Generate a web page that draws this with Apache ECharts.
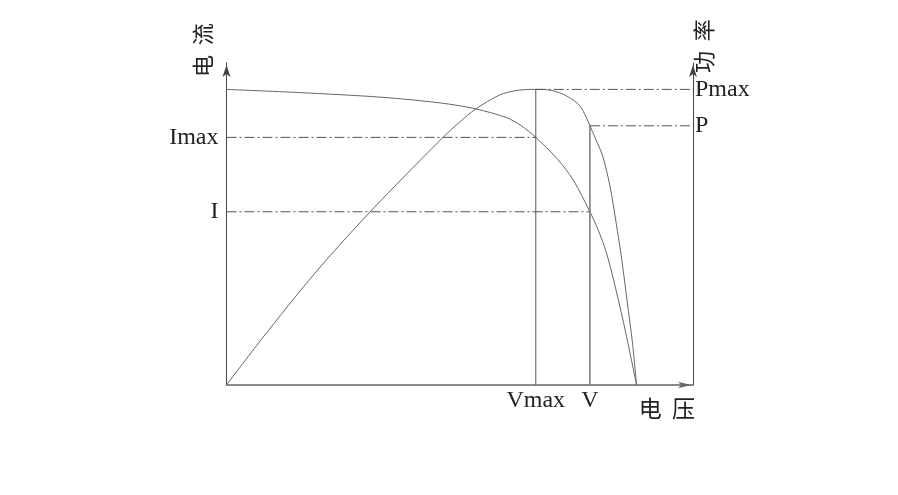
<!DOCTYPE html>
<html>
<head>
<meta charset="utf-8">
<script src="https://cdn.jsdelivr.net/npm/echarts@6/dist/echarts.min.js"></script>
<style>
html,body{margin:0;padding:0;background:#fff;}
#chart{width:898px;height:495px;}
</style>
</head>
<body>
<div id="chart"></div>
<script>
// Key operating points (axis units 0..100)
const Vmax = 66.3, V = 77.9;
const Imax = 76.9, I = 53.8;
const Pmax = 91.8, P = 80.5;

// Current (I-V) curve
const voltageI = [0, 15.8, 32.9, 45.8, 53.3, 60.1, 63.1, 66.3, 70.8, 74.3, 77.9, 79.6, 81.4, 83.5, 85.6, 87.9];
const current  = [91.8, 90.8, 89.4, 87.6, 85.8, 83.0, 80.6, 76.9, 70.4, 63.7, 53.8, 48.4, 41.3, 29.5, 16.1, 0];

// Power (P-V) curve
const voltageP = [0, 7.5, 19.0, 30.8, 46.4, 50.1, 53.3, 58.6, 62.0, 65.1, 66.3, 69.3, 72.0, 74.3, 75.8, 77.1, 77.9, 79.2, 80.7, 82.2, 83.5, 84.8, 85.9, 87.0, 87.9];
const power    = [0, 14.2, 34.8, 53.8, 76.9, 81.8, 85.6, 90.1, 91.4, 91.8, 91.8, 91.6, 90.4, 88.5, 86.6, 83.2, 80.5, 76.2, 70.8, 61.8, 50.6, 38.2, 25.8, 13.4, 0];

// Tick labels
const xTickValues = [Vmax, V];
const xTickLabels = ['Vmax', 'V'];
const yLeftTickValues = [Imax, I];
const yLeftTickLabels = ['Imax', 'I'];
const yRightTickValues = [Pmax, P];
const yRightTickLabels = ['Pmax', 'P'];

const xName = '电  压', yLeftName = '电  流', yRightName = '功  率';

const latinFont = 'Liberation Serif';
const cjkFont = 'Noto Sans CJK SC';
const curveColor = '#666';
const guideColor = '#555';
const dashDot = [10, 3, 2, 3];

function zip(a, b) { return a.map((v, i) => [v, b[i]]); }
function lookup(vals, labels) {
  return function (v) {
    for (let i = 0; i < vals.length; i++) if (Math.abs(v - vals[i]) < 1e-6) return labels[i];
    return '';
  };
}

const chart = echarts.init(document.getElementById('chart'), null, {renderer: 'canvas'});
chart.setOption({
  animation: false,
  backgroundColor: '#fff',
  grid: {left: 226.5, right: 205, top: 63, bottom: 110, containLabel: false},
  xAxis: {
    type: 'value', min: 0, max: 100,
    splitLine: {show: false}, axisTick: {show: false},
    axisLine: {show: true, lineStyle: {color: '#666', width: 1.5},
      symbol: ['none', 'arrow'], symbolSize: [5, 13], symbolOffset: [0, -2]},
    axisLabel: {customValues: xTickValues, formatter: lookup(xTickValues, xTickLabels),
      color: '#222', fontFamily: latinFont, fontSize: 24, margin: 4},
    name: xName, nameLocation: 'end', nameGap: 2, nameMoveOverlap: false,
    nameTextStyle: {color: '#222', fontFamily: cjkFont, fontSize: 23,
      align: 'right', verticalAlign: 'top', padding: [12, 0, 0, 0]}
  },
  yAxis: [{
    type: 'value', min: 0, max: 100, position: 'left',
    splitLine: {show: false}, axisTick: {show: false},
    axisLine: {show: true, lineStyle: {color: '#444', width: 1},
      symbol: ['none', 'arrow'], symbolSize: [6, 12], symbolOffset: [0, -2]},
    axisLabel: {customValues: yLeftTickValues, formatter: lookup(yLeftTickValues, yLeftTickLabels),
      color: '#222', fontFamily: latinFont, fontSize: 24, margin: 8},
    name: yLeftName, nameLocation: 'end', nameGap: -14, nameRotate: 90, nameMoveOverlap: false,
    nameTextStyle: {color: '#222', fontFamily: cjkFont, fontSize: 22,
      align: 'left', verticalAlign: 'bottom', padding: [0, 0, 13, 0]}
  }, {
    type: 'value', min: 0, max: 100, position: 'right',
    splitLine: {show: false}, axisTick: {show: false},
    axisLine: {show: true, lineStyle: {color: '#444', width: 1},
      symbol: ['none', 'arrow'], symbolSize: [6, 12], symbolOffset: [0, -2]},
    axisLabel: {customValues: yRightTickValues, formatter: lookup(yRightTickValues, yRightTickLabels),
      color: '#222', fontFamily: latinFont, fontSize: 24, margin: 2},
    name: yRightName, nameLocation: 'end', nameGap: -10, nameRotate: 90, nameMoveOverlap: false,
    nameTextStyle: {color: '#222', fontFamily: cjkFont, fontSize: 22,
      align: 'left', verticalAlign: 'top', padding: [0, 0, 0, 0]}
  }],
  series: [
    {type: 'line', data: zip(voltageI, current), yAxisIndex: 0, showSymbol: false, symbol: 'none',
      smooth: 0.3, lineStyle: {color: curveColor, width: 1}, z: 3},
    {type: 'line', data: zip(voltageP, power), yAxisIndex: 1, showSymbol: false, symbol: 'none',
      smooth: 0.3, lineStyle: {color: curveColor, width: 1}, z: 3},
    // guides
    {type: 'line', data: [[0, Imax], [Vmax, Imax]], yAxisIndex: 0, symbol: 'none',
      lineStyle: {color: guideColor, width: 1, type: dashDot}},
    {type: 'line', data: [[0, I], [V, I]], yAxisIndex: 0, symbol: 'none',
      lineStyle: {color: guideColor, width: 1, type: dashDot}},
    {type: 'line', data: [[Vmax, Pmax], [100, Pmax]], yAxisIndex: 1, symbol: 'none',
      lineStyle: {color: guideColor, width: 1, type: dashDot}},
    {type: 'line', data: [[V, P], [100, P]], yAxisIndex: 1, symbol: 'none',
      lineStyle: {color: guideColor, width: 1, type: dashDot}},
    {type: 'line', data: [[Vmax, 0], [Vmax, Pmax]], yAxisIndex: 1, symbol: 'none',
      lineStyle: {color: '#555', width: 1}},
    {type: 'line', data: [[V, 0], [V, P]], yAxisIndex: 1, symbol: 'none',
      lineStyle: {color: '#777', width: 1.5}}
  ]
});
</script>
</body>
</html>
